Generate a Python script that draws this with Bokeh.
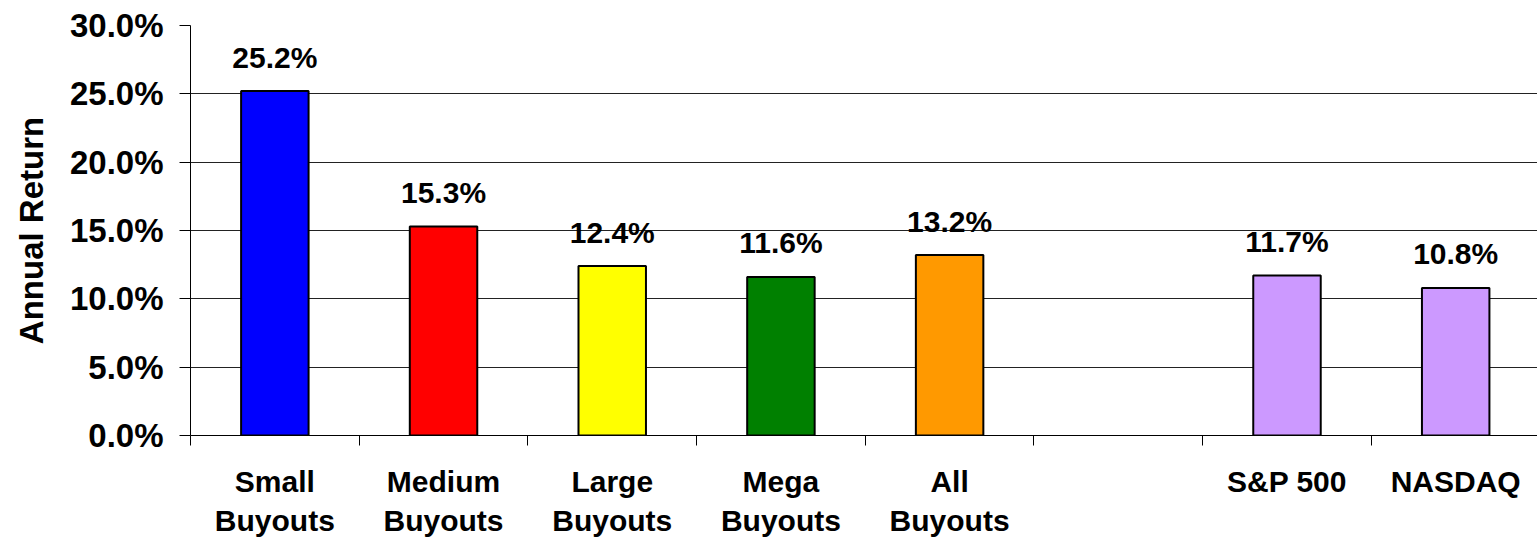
from bokeh.plotting import figure
from bokeh.models import ColumnDataSource, FixedTicker, PrintfTickFormatter, Range1d
from bokeh.core.properties import value
from bokeh.embed import file_html
from bokeh.resources import INLINE

categories = ["Small\nBuyouts", "Medium\nBuyouts", "Large\nBuyouts", "Mega\nBuyouts",
              "All\nBuyouts", "", "S&P 500", "NASDAQ"]
returns = [25.2, 15.3, 12.4, 11.6, 13.2, None, 11.7, 10.8]
colors = ["#0000FF", "#FF0000", "#FFFF00", "#008000", "#FF9900", None, "#CC99FF", "#CC99FF"]
y_ticks = [0, 5, 10, 15, 20, 25, 30]
y_title = "Annual Return"

FONT = "Liberation Sans"

idx = [i for i, v in enumerate(returns) if v is not None]
src = ColumnDataSource(dict(
    x=[i + 0.5 for i in idx],
    top=[returns[i] for i in idx],
    color=[colors[i] for i in idx],
    label=[f"{returns[i]:.1f}%" for i in idx],
))

n = len(categories)
p = figure(width=1537, height=540, output_backend="svg", toolbar_location=None,
           x_range=Range1d(0, 7.985), y_range=Range1d(0, 30),
           min_border_left=190, min_border_right=0, min_border_top=25,
           min_border_bottom=105)
p.outline_line_color = None
p.background_fill_color = "white"
p.border_fill_color = "white"

p.vbar(x="x", top="top", width=0.4, bottom=0, source=src, fill_color="color",
       line_color="black", line_width=2)

p.text(x="x", y="top", text="label", source=src, y_offset=-34,
       text_align="center", text_baseline="alphabetic",
       text_font=value(FONT), text_font_style="bold", text_font_size="30px",
       text_color="black")

# y axis
p.yaxis.ticker = FixedTicker(ticks=y_ticks)
p.yaxis.formatter = PrintfTickFormatter(format="%.1f%%")
p.yaxis.major_label_text_font = FONT
p.yaxis.major_label_text_font_style = "bold"
p.yaxis.major_label_text_font_size = "33px"
p.yaxis.major_label_text_color = "black"
p.yaxis.major_tick_out = 11
p.yaxis.major_tick_in = 0
p.yaxis.minor_tick_line_color = None
p.yaxis.major_label_standoff = 16
p.yaxis.axis_line_color = "black"
p.yaxis.major_tick_line_color = "black"
p.yaxis.axis_label = y_title
p.yaxis.axis_label_text_font = FONT
p.yaxis.axis_label_text_font_style = "bold"
p.yaxis.axis_label_text_font_size = "33px"
p.yaxis.axis_label_text_color = "black"
p.yaxis.axis_label_standoff = 17

# x axis: labels centred in slots, tick marks at slot boundaries
centers = [i + 0.5 for i in range(n)]
bounds = [float(i) for i in range(n)]
p.xaxis.ticker = FixedTicker(ticks=centers, minor_ticks=bounds)
p.xaxis.major_label_overrides = {c: lab for c, lab in zip(centers, categories)}
p.xaxis.major_tick_line_color = None
p.xaxis.major_tick_out = 0
p.xaxis.major_tick_in = 0
p.xaxis.minor_tick_line_color = "black"
p.xaxis.minor_tick_out = 10
p.xaxis.minor_tick_in = 0
p.xaxis.axis_line_color = "black"
p.xaxis.major_label_standoff = 19
p.xaxis.major_label_text_font = FONT
p.xaxis.major_label_text_font_style = "bold"
p.xaxis.major_label_text_font_size = "30px"
p.xaxis.major_label_text_color = "black"

p.xgrid.grid_line_color = None
p.ygrid.ticker = FixedTicker(ticks=y_ticks)
p.ygrid.grid_line_color = "#222222"
p.ygrid.grid_line_width = 1

open("out.html", "w").write(file_html(p, INLINE))
